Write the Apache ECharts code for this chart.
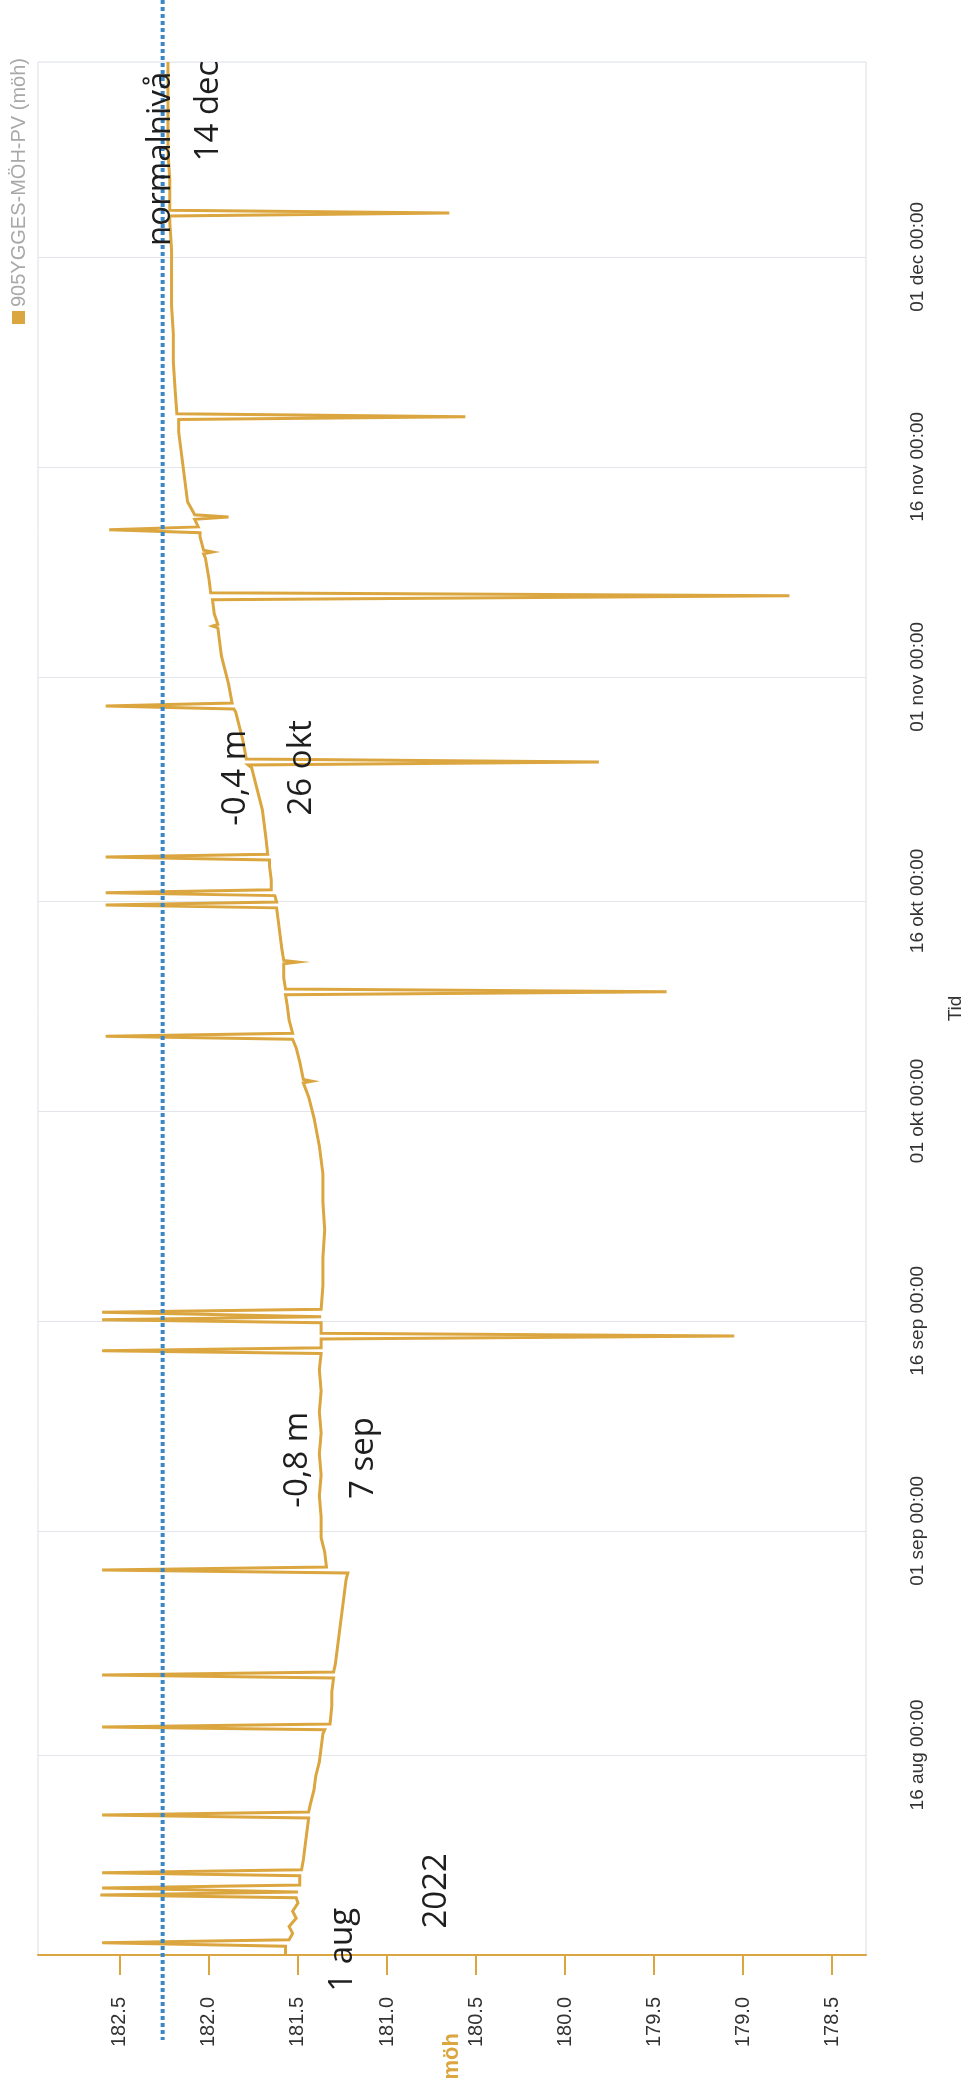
<!DOCTYPE html>
<html><head><meta charset="utf-8">
<script src="https://cdn.jsdelivr.net/npm/echarts@6/dist/echarts.min.js"></script>
<style>html,body{margin:0;padding:0;background:#fff}#c{width:967px;height:2092px}</style>
</head><body><div id="c"></div>
<script>
// ---- data ----
const times = [
'2022-08-01 17:00','2022-08-02 08:00','2022-08-02 09:00','2022-08-02 14:00','2022-08-02 19:00',
'2022-08-03 06:00','2022-08-03 18:00','2022-08-04 08:00','2022-08-04 20:00','2022-08-05 10:00','2022-08-05 19:00',
'2022-08-06 00:00','2022-08-06 05:00','2022-08-06 07:00','2022-08-06 12:00','2022-08-06 17:00',
'2022-08-07 09:00','2022-08-07 14:00','2022-08-07 19:00',
'2022-08-08 12:00','2022-08-09 12:00','2022-08-10 12:00','2022-08-11 12:00','2022-08-11 17:00','2022-08-11 22:00',
'2022-08-12 12:00','2022-08-13 12:00','2022-08-14 12:00','2022-08-15 12:00','2022-08-16 12:00','2022-08-17 12:00','2022-08-17 19:00',
'2022-08-18 00:00','2022-08-18 05:00','2022-08-19 12:00','2022-08-20 12:00',
'2022-08-21 12:00','2022-08-21 17:00','2022-08-21 22:00',
'2022-08-22 12:00','2022-08-23 12:00','2022-08-24 12:00','2022-08-25 12:00','2022-08-26 12:00','2022-08-27 12:00','2022-08-28 12:00',
'2022-08-29 00:00','2022-08-29 05:00','2022-08-29 10:00','2022-08-30 12:00','2022-08-31 12:00',
'2022-09-02 00:00','2022-09-03 12:00','2022-09-05 00:00','2022-09-06 12:00','2022-09-08 00:00','2022-09-09 12:00','2022-09-11 00:00','2022-09-12 12:00',
'2022-09-13 16:00','2022-09-13 21:00','2022-09-14 02:00',
'2022-09-14 17:00','2022-09-14 22:00','2022-09-15 03:00',
'2022-09-15 21:00','2022-09-16 02:00','2022-09-16 07:00',
'2022-09-16 10:00','2022-09-16 15:00','2022-09-16 20:00',
'2022-09-18 12:00','2022-09-20 12:00','2022-09-22 12:00','2022-09-24 12:00','2022-09-26 12:00','2022-09-28 12:00','2022-09-30 12:00',
'2022-10-02 00:00','2022-10-03 00:00','2022-10-03 03:00','2022-10-03 06:00','2022-10-04 12:00','2022-10-05 12:00',
'2022-10-06 03:00','2022-10-06 08:00','2022-10-06 13:00','2022-10-07 12:00','2022-10-08 12:00',
'2022-10-09 07:00','2022-10-09 12:00','2022-10-09 17:00','2022-10-10 12:00',
'2022-10-11 12:00','2022-10-11 15:00','2022-10-11 18:00','2022-10-12 12:00','2022-10-13 12:00','2022-10-14 12:00',
'2022-10-15 12:00','2022-10-15 17:00','2022-10-15 22:00',
'2022-10-16 09:00','2022-10-16 14:00','2022-10-16 19:00','2022-10-17 12:00','2022-10-18 12:00',
'2022-10-18 22:00','2022-10-19 03:00','2022-10-19 08:00',
'2022-10-20 12:00','2022-10-21 12:00','2022-10-22 12:00','2022-10-23 12:00','2022-10-24 12:00','2022-10-25 12:00',
'2022-10-25 17:00','2022-10-25 22:00','2022-10-26 03:00','2022-10-27 12:00','2022-10-28 12:00','2022-10-29 12:00',
'2022-10-29 17:00','2022-10-29 22:00','2022-10-30 03:00','2022-10-31 12:00',
'2022-11-01 12:00','2022-11-02 12:00','2022-11-03 12:00','2022-11-04 12:00','2022-11-04 15:00','2022-11-04 18:00','2022-11-05 12:00',
'2022-11-06 12:00','2022-11-06 14:00','2022-11-06 19:00','2022-11-07 00:00','2022-11-08 00:00',
'2022-11-09 12:00','2022-11-09 19:00','2022-11-09 22:00','2022-11-10 01:00',
'2022-11-11 00:00','2022-11-11 07:00','2022-11-11 12:00','2022-11-11 17:00',
'2022-11-12 06:00','2022-11-12 10:00','2022-11-12 14:00',
'2022-11-13 12:00','2022-11-14 12:00','2022-11-15 12:00','2022-11-16 12:00','2022-11-17 12:00','2022-11-18 12:00',
'2022-11-19 09:00','2022-11-19 14:00','2022-11-19 19:00',
'2022-11-21 12:00','2022-11-23 12:00','2022-11-25 12:00','2022-11-27 12:00','2022-11-29 12:00','2022-12-01 12:00','2022-12-03 12:00',
'2022-12-03 22:00','2022-12-04 03:00','2022-12-04 08:00',
'2022-12-06 12:00','2022-12-08 12:00','2022-12-10 12:00','2022-12-12 12:00','2022-12-14 22:00'
];
const levels = [
181.57,181.57,181.56,182.60,181.55,
181.53,181.55,181.51,181.53,181.50,181.51,
182.61,181.50,181.50,182.60,181.49,
181.49,182.60,181.48,
181.47,181.46,181.45,181.44,182.60,181.44,
181.43,181.41,181.40,181.38,181.37,181.36,181.35,
182.60,181.32,181.31,181.31,
181.30,182.60,181.30,
181.29,181.28,181.27,181.26,181.25,181.24,181.23,
181.22,182.60,181.34,181.35,181.37,
181.37,181.38,181.37,181.38,181.37,181.38,181.37,181.38,
181.37,182.60,181.37,
181.37,179.05,181.37,
181.37,182.60,181.37,
181.37,182.60,181.37,
181.36,181.36,181.35,181.36,181.36,181.38,181.41,
181.44,181.47,181.42,181.47,181.49,181.51,
181.53,182.58,181.53,181.55,181.56,
181.57,179.43,181.57,181.58,
181.58,181.50,181.58,181.59,181.60,181.61,
181.62,182.58,181.62,
181.63,182.58,181.65,181.65,181.66,
181.66,182.58,181.67,
181.68,181.69,181.70,181.72,181.74,181.76,
181.78,179.81,181.79,181.81,181.83,181.85,
181.86,182.58,181.87,181.89,
181.91,181.93,181.94,181.95,181.98,181.95,181.97,
181.98,181.98,178.74,181.99,182.00,
182.02,182.03,181.98,182.03,
182.05,182.05,182.56,182.06,
182.08,181.89,182.08,
182.12,182.13,182.14,182.15,182.16,182.17,
182.17,180.56,182.18,
182.19,182.20,182.20,182.21,182.21,182.21,182.22,
182.22,180.65,182.22,
182.22,182.23,182.23,182.23,182.23
];
const mohTicks = [178.5, 179.0, 179.5, 180.0, 180.5, 181.0, 181.5, 182.0, 182.5];
const dateTicks = ['2022-08-16','2022-09-01','2022-09-16','2022-10-01','2022-10-16','2022-11-01','2022-11-16','2022-12-01'];
const monthNames = ['jan','feb','mar','apr','maj','jun','jul','aug','sep','okt','nov','dec'];
const seriesName = '905YGGES-MÖH-PV (möh)';
const normalLevel = 182.26;
const noteTexts  = ['normalnivå','14 dec','-0,4 m','26 okt','-0,8 m','7 sep','1 aug','2022'];
const noteDates  = ['2022-12-08 00:00','2022-12-11 10:00','2022-10-24 19:00','2022-10-25 12:00','2022-09-06 02:00','2022-09-06 05:00','2022-08-02 02:00','2022-08-06 07:00'];
const noteValues = [182.27, 182.00, 181.85, 181.48, 181.50, 181.13, 181.25, 180.72];

// ---- helpers ----
const ts = s => { const p = s.split(' '); return new Date(p[0] + 'T' + (p[1] || '00:00') + ':00').getTime(); };
const pad = n => (n < 10 ? '0' : '') + n;
const GOLD = '#DBA63F';
const seriesData = times.map((t, i) => [levels[i], ts(t)]);
const dateTickValues = dateTicks.map(d => ts(d));

const chart = echarts.init(document.getElementById('c'), null, { renderer: 'canvas' });
const option = {
  animation: false,
  backgroundColor: '#ffffff',
  grid: { left: 38, right: 101, top: 62, bottom: 137, show: true, borderColor: '#d9dee6', borderWidth: 1,
    containLabel: false, outerBoundsMode: 'none' },
  xAxis: {
    type: 'value', inverse: true, min: 178.31, max: 182.96, position: 'bottom',
    name: 'möh', nameLocation: 'middle', nameRotate: 90, nameGap: 78, nameMoveOverlap: false,
    nameTextStyle: { color: GOLD, fontWeight: 'bold', fontSize: 22, fontFamily: 'Liberation Sans' },
    axisLine: { show: true, lineStyle: { color: GOLD, width: 2 } },
    axisTick: { show: true, length: 20, lineStyle: { color: GOLD, width: 2 }, customValues: mohTicks },
    axisLabel: { rotate: 90, margin: 42, color: '#333', fontSize: 20, fontFamily: 'Liberation Sans',
      customValues: mohTicks, formatter: v => v.toFixed(1) },
    splitLine: { show: false }
  },
  yAxis: {
    type: 'value', position: 'right', min: ts('2022-08-01 17:00'), max: ts('2022-12-14 22:00'), scale: true,
    name: 'Tid', nameLocation: 'middle', nameRotate: 90, nameGap: 80, nameMoveOverlap: false,
    nameTextStyle: { color: '#333', fontSize: 19, fontFamily: 'Liberation Sans' },
    axisLine: { show: false },
    axisTick: { show: false, customValues: dateTickValues },
    axisLabel: { rotate: 90, margin: 42, color: '#333', fontSize: 19, fontFamily: 'Liberation Sans',
      customValues: dateTickValues,
      formatter: v => { const d = new Date(v); return pad(d.getDate()) + ' ' + monthNames[d.getMonth()] + ' ' + pad(d.getHours()) + ':' + pad(d.getMinutes()); } },
    splitLine: { show: true, lineStyle: { color: '#e2e5ea', width: 1 } }
  },
  series: [{
    name: seriesName, type: 'line', data: seriesData, showSymbol: false, symbol: 'none',
    lineStyle: { color: GOLD, width: 3, join: 'miter' }, itemStyle: { color: GOLD }, z: 5
  }]
};
chart.setOption(option);

const px = v => chart.convertToPixel({ xAxisIndex: 0 }, v);
const py = t => chart.convertToPixel({ yAxisIndex: 0 }, ts(t));
const axisY = py('2022-08-01 17:00');
const nx = px(normalLevel);
const graphics = [
  { type: 'line', z: 100, shape: { x1: nx, y1: 0, x2: nx, y2: axisY + 85 },
    style: { stroke: '#3b86c5', lineWidth: 4, lineDash: [4, 3] } },
  { type: 'rect', z: 100, shape: { x: 12, y: 311, width: 13, height: 13 }, style: { fill: GOLD } },
  { type: 'text', z: 100, x: 19, y: 307, rotation: Math.PI / 2,
    style: { text: seriesName, fill: '#a8a8a8', fontSize: 20, fontFamily: 'Liberation Sans', align: 'left', verticalAlign: 'middle' } }
];
noteTexts.forEach((t, i) => {
  graphics.push({ type: 'text', z: 110, x: px(noteValues[i]), y: py(noteDates[i]), rotation: Math.PI / 2,
    style: { text: t, fill: '#1e1e1e', fontSize: 33, fontFamily: 'Open Sans', align: 'center', verticalAlign: 'middle' } });
});
chart.setOption({ graphic: graphics });
</script>
</body></html>
